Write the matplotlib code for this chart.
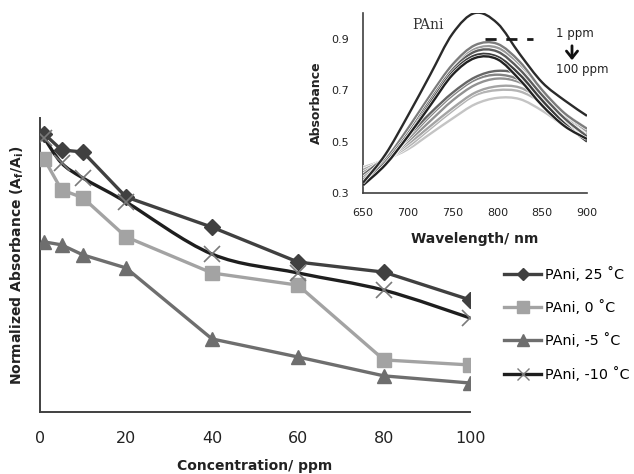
import numpy as np
import matplotlib
matplotlib.use("Agg")
import matplotlib.pyplot as plt
import matplotlib.patheffects as pe
from matplotlib.path import Path
from matplotlib.patches import PathPatch, FancyArrowPatch
from matplotlib.lines import Line2D

# ---- main panel: normalized absorbance vs concentration ----
conc = [1, 5, 10, 20, 40, 60, 80, 100]
pani_25 = [0.962, 0.924, 0.919, 0.812, 0.740, 0.657, 0.633, 0.567]
pani_0 = [0.902, 0.829, 0.810, 0.717, 0.631, 0.602, 0.424, 0.412]
pani_m5 = [0.705, 0.698, 0.674, 0.643, 0.474, 0.431, 0.386, 0.369]
pani_m10 = [0.952, 0.893, 0.857, 0.800, 0.676, 0.631, 0.590, 0.524]
series_labels = ["PAni, 25 ˚C", "PAni, 0 ˚C", "PAni, -5 ˚C", "PAni, -10 ˚C"]
conc_ticks = [0, 20, 40, 60, 80, 100]

# ---- inset: UV-vis spectra from 1 ppm down to 100 ppm ----
wavelength = [650, 675, 700, 725, 750, 775, 800, 825, 850, 875, 900]
spec_01 = [0.34, 0.45, 0.60, 0.76, 0.92, 1.00, 0.96, 0.84, 0.73, 0.66, 0.60]
spec_02 = [0.35, 0.43, 0.55, 0.68, 0.80, 0.875, 0.88, 0.81, 0.70, 0.61, 0.55]
spec_03 = [0.36, 0.43, 0.54, 0.67, 0.79, 0.86, 0.865, 0.80, 0.70, 0.61, 0.54]
spec_04 = [0.34, 0.42, 0.53, 0.66, 0.78, 0.85, 0.85, 0.78, 0.68, 0.59, 0.52]
spec_05 = [0.33, 0.41, 0.52, 0.65, 0.77, 0.835, 0.83, 0.76, 0.66, 0.57, 0.50]
spec_06 = [0.33, 0.41, 0.52, 0.64, 0.76, 0.825, 0.82, 0.74, 0.64, 0.56, 0.51]
spec_07 = [0.37, 0.44, 0.52, 0.61, 0.69, 0.75, 0.775, 0.76, 0.69, 0.61, 0.55]
spec_08 = [0.37, 0.43, 0.51, 0.60, 0.68, 0.74, 0.76, 0.74, 0.68, 0.60, 0.54]
spec_09 = [0.38, 0.43, 0.50, 0.58, 0.66, 0.72, 0.745, 0.73, 0.67, 0.60, 0.54]
spec_10 = [0.39, 0.43, 0.49, 0.56, 0.63, 0.69, 0.715, 0.71, 0.66, 0.59, 0.53]
spec_11 = [0.39, 0.43, 0.48, 0.55, 0.62, 0.68, 0.70, 0.695, 0.65, 0.58, 0.52]
spec_12 = [0.40, 0.43, 0.47, 0.53, 0.59, 0.645, 0.67, 0.665, 0.62, 0.56, 0.51]
spectra = [spec_12, spec_11, spec_10, spec_09, spec_08, spec_07,
           spec_03, spec_02, spec_04, spec_05, spec_06, spec_01]
spectra_colors = ["#c4c4c4", "#b4b4b4", "#a4a4a4", "#929292", "#848484", "#666666",
                  "#9a9a9a", "#7c7c7c", "#5c5c5c", "#3c3c3c", "#222222", "#2a2a2a"]
wl_ticks = [650, 700, 750, 800, 850, 900]
abs_ticks = [0.3, 0.5, 0.7, 0.9]
dash_x = [786, 840]
dash_y = [0.90, 0.90]

plt.rcParams["font.family"] = ["DejaVu Sans"]


def smooth_path(ax, xs, ys):
    """Smoothed (Catmull-Rom) Bezier path through the given points."""
    pts = ax.transData.transform(np.column_stack([xs, ys]))
    n = len(pts)
    verts = [pts[0]]
    codes = [Path.MOVETO]
    for i in range(n - 1):
        p0 = pts[i - 1] if i > 0 else pts[i]
        p1 = pts[i]
        p2 = pts[i + 1]
        p3 = pts[i + 2] if i + 2 < n else pts[i + 1]
        c1 = p1 + (p2 - p0) / 6.0
        c2 = p2 - (p3 - p1) / 6.0
        verts += [c1, c2, p2]
        codes += [Path.CURVE4] * 3
    verts = ax.transData.inverted().transform(np.array(verts))
    return Path(verts, codes)


fig = plt.figure(figsize=(6.34, 4.74), dpi=100)
W, H = 634, 474

# main axes
ax = fig.add_axes([40 / W, (H - 412) / H, 430 / W, 294 / H])
ax.set_xlim(0, 100)
ax.set_ylim(0.3, 1.0)
for s in ["top", "right"]:
    ax.spines[s].set_visible(False)
for s in ["left", "bottom"]:
    ax.spines[s].set_color("#404040")
    ax.spines[s].set_linewidth(1.4)
ax.set_yticks([])
ax.set_xticks(conc_ticks)
ax.tick_params(axis="x", length=0, pad=14, labelsize=11.5, labelcolor="#222222")
ax.set_xlabel("Concentration/ ppm", fontsize=10, fontweight="bold", labelpad=9, color="#222222")
ax.set_ylabel(r"Normalized Absorbance (A$_\mathregular{f}$/A$_\mathregular{i}$)",
              fontsize=10, fontweight="bold", labelpad=10, color="#222222")

c25, c0, cm5, cm10 = "#404040", "#a3a3a3", "#6e6e6e", "#1e1e1e"
ax.plot(conc, pani_25, color=c25, lw=2.4, marker="D", ms=8, zorder=4)
ax.plot(conc, pani_0, color=c0, lw=2.4, marker="s", ms=10, zorder=3)
ax.plot(conc, pani_m5, color=cm5, lw=2.4, marker="^", ms=10, zorder=3)
ax.add_patch(PathPatch(smooth_path(ax, conc, pani_m10), fill=False,
                       edgecolor=cm10, lw=2.4, zorder=3))
ax.plot(conc, pani_m10, ls="none", marker="x", ms=11, mew=1.2, color="#7a7a7a", zorder=4)

handles = [
    Line2D([], [], color=c25, lw=2.4, marker="D", ms=6),
    Line2D([], [], color=c0, lw=2.4, marker="s", ms=8),
    Line2D([], [], color=cm5, lw=2.4, marker="^", ms=8),
    Line2D([], [], color=cm10, lw=2.4, marker="x", ms=9, mew=1.0, mec="#7a7a7a"),
]
fig.legend(handles, series_labels, loc="upper left",
           bbox_to_anchor=(504 / W, (H - 267) / H), frameon=False,
           fontsize=10.3, handlelength=2.6, handletextpad=0.3, labelspacing=1.28,
           numpoints=1, borderaxespad=0, borderpad=0)

# inset axes
ins = fig.add_axes([363 / W, (H - 193) / H, 224 / W, 180 / H])
ins.set_xlim(650, 900)
ins.set_ylim(0.3, 1.0)
for s in ["top", "right"]:
    ins.spines[s].set_visible(False)
for s in ["left", "bottom"]:
    ins.spines[s].set_color("#404040")
    ins.spines[s].set_linewidth(1.2)
ins.set_xticks(wl_ticks)
ins.set_yticks(abs_ticks)
ins.set_yticklabels([f"{v:.1f}" for v in abs_ticks])
ins.tick_params(length=0, labelsize=8, labelcolor="#222222")
ins.tick_params(axis="x", pad=11)
ins.tick_params(axis="y", pad=10)
ins.set_xlabel("Wavelength/ nm", fontsize=10, fontweight="bold", labelpad=10, color="#222222")
ins.set_ylabel("Absorbance", fontsize=9, fontweight="bold", labelpad=6, color="#222222")

for spec, col in zip(spectra, spectra_colors):
    ins.add_patch(PathPatch(smooth_path(ins, wavelength, spec), fill=False,
                            edgecolor=col, lw=1.7, zorder=3,
                            path_effects=[pe.Stroke(linewidth=2.6, foreground="white"),
                                          pe.Normal()]))

ins.plot(dash_x, dash_y, color="#1a1a1a", lw=2.0, dashes=(4, 3.5), zorder=4)
ins.text(723, 0.955, "PAni", family="DejaVu Serif", fontsize=10, ha="center", va="center",
         color="#333333")
fig.text(556 / W, (H - 34) / H, "1 ppm", fontsize=8.5, ha="left", va="center", color="#222222")
fig.text(556 / W, (H - 70) / H, "100 ppm", fontsize=8.5, ha="left", va="center", color="#222222")
fig.add_artist(FancyArrowPatch(
    (572 / W, (H - 43) / H), (572 / W, (H - 63) / H), transform=fig.transFigure,
    arrowstyle="->,head_length=5,head_width=4", lw=2.0, color="#111111"))

fig.savefig("out.png", dpi=100)
